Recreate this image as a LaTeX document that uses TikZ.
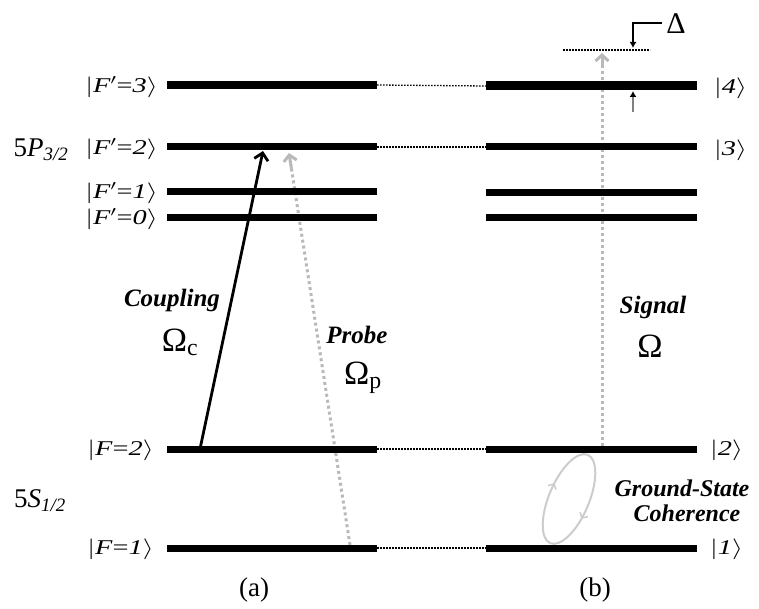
\documentclass[tikz,border=0pt]{standalone}
\usepackage{fontspec}
\usepackage{graphicx}
\setmainfont{Liberation Serif}
\usetikzlibrary{arrows.meta,decorations.markings,calc}
\newcommand\myket[1]{\scalebox{1.35}[1]{$|$#1$\rangle$}}
\begin{document}
\begin{tikzpicture}[x=1pt,y=-1pt,
  lev/.style={line width=7pt},
  conn/.style={line width=1.3pt, dash pattern=on 1.6pt off 1.4pt},
  graydot/.style={gray!55, line width=3pt, dash pattern=on 3pt off 3pt},
  ketlab/.style={inner sep=0pt, font=\fontsize{21}{23}\selectfont},
  tlab/.style={inner sep=0pt, font=\fontsize{25}{28}\selectfont\bfseries\itshape},
  omlab/.style={inner sep=0pt, font=\fontsize{34}{36}\selectfont},
  capl/.style={inner sep=0pt, font=\fontsize{27}{30}\selectfont},
  chev/.style={-{Straight Barb[length=6pt,width=13pt,line width=3pt]}}
]
\useasboundingbox (0,0) rectangle (759,609);
% level end points (left)
\foreach \n/\y in {a3/85,a2/147,a1/192,a0/218,ag2/449,ag1/548}{
  \coordinate (\n L) at (167,\y); \coordinate (\n R) at (377,\y);}
\foreach \n/\y in {b4/86,b3/147,b2/193,b1/218,bg2/449,bg1/548}{
  \coordinate (\n L) at (486,\y); \coordinate (\n R) at (697,\y);}
% dotted links
\draw[conn] (a3R) -- (b4L);
\draw[conn] (a2R) -- (b3L);
\draw[conn] (ag2R) -- (bg2L);
\draw[conn] (ag1R) -- (bg1L);
% detuned level
\coordinate (dl) at (563,50); \coordinate (dr) at (650,50);
\draw[conn] (dl) -- (dr);
% signal arrow
\coordinate (sigS) at (602,446); \coordinate (sigE) at (602,53);
\draw[graydot] (sigS) -- ($(sigE)+(0,10)$);
\draw[chev, gray!55, line width=3pt] ($(sigE)+(0,12)$) -- (sigE);
% probe arrow
\coordinate (prS) at (350,545); \coordinate (prE) at (289,153);
\draw[graydot] (prS) -- ($(prS)!0.97!(prE)$);
\draw[chev, gray!55, line width=3pt] ($(prS)!0.96!(prE)$) -- (prE);
% levels
\foreach \n in {a2,a1,a0,ag2,ag1,b3,b2,b1,bg2,bg1}{
  \draw[lev] (\n L) -- (\n R);}
\draw[lev, line width=8pt] (a3L) -- (a3R);
\draw[lev, line width=9pt] (b4L) -- (b4R);
% coupling arrow
\coordinate (cpS) at (200,449); \coordinate (cpE) at (263,151);
\draw[line width=2.8pt, -{Straight Barb[length=7pt,width=14pt,line width=2.8pt]}] (cpS) -- (cpE);
% Delta bracket
\coordinate (d1) at (662,23); \coordinate (d2) at (633,23); \coordinate (d3) at (633,48);
\draw[line width=2.5pt, -{Latex[length=6pt,width=7pt]}] (d1) -- (d2) -- (d3);
\coordinate (e1) at (633,112); \coordinate (e2) at (633,91);
\draw[gray, line width=2pt, -{Latex[length=6pt,width=7pt,color=black]}] (e1) -- (e2);
\node[omlab, font=\fontsize{30}{32}\selectfont] (delta) at (676,24) {Δ};
% ellipse
\draw[gray!40, line width=2pt,
  postaction={decorate, decoration={markings,
    mark=at position 0.31 with {\arrow{Straight Barb[length=4pt,width=9pt,line width=1.5pt]}},
    mark=at position 0.79 with {\arrow{Straight Barb[length=4pt,width=9pt,line width=1.5pt]}}}}]
  (569,499) ellipse [x radius=48, y radius=20, rotate=67];
% labels
\node[ketlab, anchor=east] (k3) at (158,87) {\myket{\textit{F}$'$=\textit{3}}};
\node[ketlab, anchor=east] (k2) at (158,149) {\myket{\textit{F}$'$=\textit{2}}};
\node[ketlab, anchor=east] (k1) at (158,193) {\myket{\textit{F}$'$=\textit{1}}};
\node[ketlab, anchor=east] (k0) at (158,219) {\myket{\textit{F}$'$=\textit{0}}};
\node[ketlab, anchor=east] (kg2) at (154,450) {\myket{\textit{F}=\textit{2}}};
\node[ketlab, anchor=east] (kg1) at (154,549) {\myket{\textit{F}=\textit{1}}};
\node[ketlab, anchor=west] (r4) at (714,88) {\myket{\textit{4}}};
\node[ketlab, anchor=west] (r3) at (714,150) {\myket{\textit{3}}};
\node[ketlab, anchor=west] (r2) at (710,450) {\myket{\textit{2}}};
\node[ketlab, anchor=west] (r1) at (710,549) {\myket{\textit{1}}};
\node[capl] (p32) at (41,150) {5\textit{P}\textsubscript{\textit{3/2}}};
\node[capl] (s12) at (40,501) {5\textit{S}\textsubscript{\textit{1/2}}};
\node[tlab] (coup) at (172,300) {Coupling};
\node[omlab] (omc) at (180,342) {Ω\textsubscript{c}};
\node[tlab] (probe) at (357,335) {Probe};
\node[omlab] (omp) at (363,378) {Ω\textsubscript{p}};
\node[tlab] (signal) at (653,307) {Signal};
\node[omlab] (om) at (650,346) {Ω};
\node[tlab, font=\fontsize{24}{26}\selectfont\bfseries\itshape] (gs) at (682,488) {Ground-State};
\node[tlab, font=\fontsize{24}{26}\selectfont\bfseries\itshape] (coh) at (687,513) {Coherence};
\node[capl] (la) at (254,590) {(a)};
\node[capl] (lb) at (595,590) {(b)};
\end{tikzpicture}
\end{document}
